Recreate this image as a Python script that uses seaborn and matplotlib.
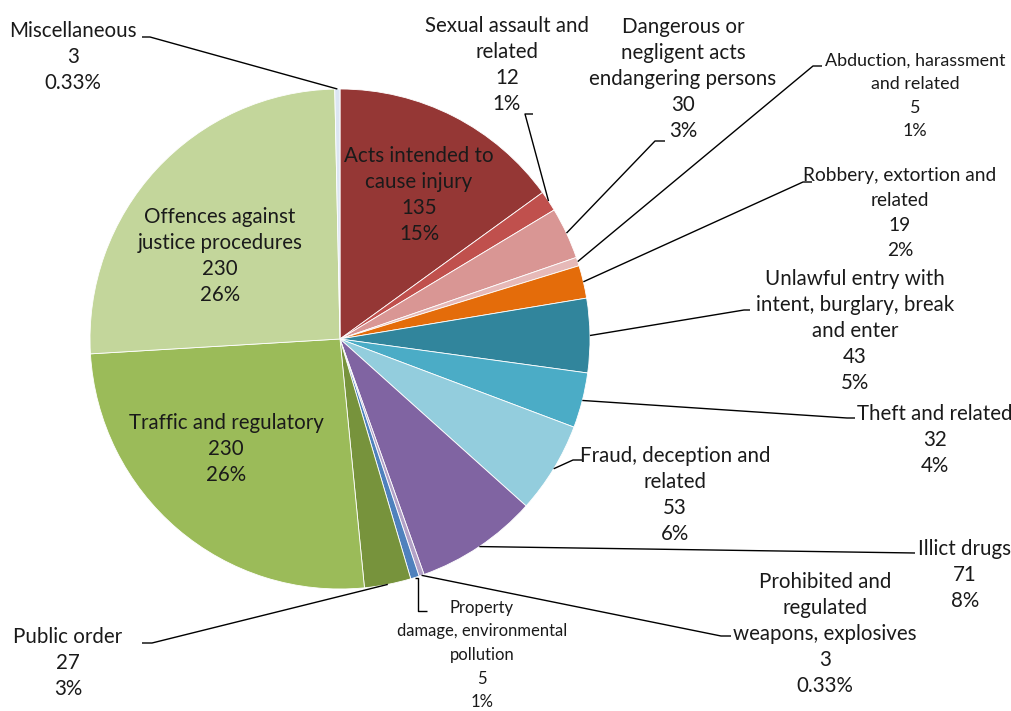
import numpy as np
import matplotlib.pyplot as plt
import seaborn as sns

# offence categories, clockwise from 12 o'clock
categories = ['Acts intended to\ncause injury', 'Sexual assault and\nrelated',
              'Dangerous or\nnegligent acts\nendangering persons',
              'Abduction, harassment\nand related', 'Robbery, extortion and\nrelated',
              'Unlawful entry with\nintent, burglary, break\nand enter', 'Theft and related',
              'Fraud, deception and\nrelated', 'Illict drugs',
              'Prohibited and\nregulated\nweapons, explosives',
              'Property\ndamage, environmental\npollution', 'Public order',
              'Traffic and regulatory', 'Offences against\njustice procedures', 'Miscellaneous']
counts = [135, 12, 30, 5, 19, 43, 32, 53, 71, 3, 5, 27, 230, 230, 3]
pct_labels = ['15%', '1%', '3%', '1%', '2%', '5%', '4%', '6%', '8%', '0.33%',
              '1%', '3%', '26%', '26%', '0.33%']
colors = ['#953735', '#C0504D', '#D99694', '#E6B9B8', '#E46C0A', '#31859C', '#4BACC6',
          '#93CDDD', '#8064A2', '#B3A2C7', '#4F81BD', '#77933C', '#9BBB59', '#C3D69B',
          '#DCE6F2']

sns.set_theme(style='white')
plt.rcParams['font.family'] = ['Lato', 'DejaVu Sans']

W, H = 1012, 711
fig = plt.figure(figsize=(W / 100, H / 100), dpi=100)
ax = fig.add_axes([0, 0, 1, 1])

cx, cy, R = 340, H - 339, 250
wedges, _ = ax.pie(counts, colors=sns.color_palette(colors), startangle=90,
                   counterclock=False, center=(cx, cy), radius=R,
                   wedgeprops=dict(edgecolor='white', linewidth=0.6))
ax.set_xlim(0, W)
ax.set_ylim(0, H)
ax.set_aspect('equal')
ax.axis('off')

def label(i):
    return f'{categories[i]}\n{counts[i]}\n{pct_labels[i]}'

def edge(i, r=R):
    w = wedges[i]
    a = np.deg2rad((w.theta1 + w.theta2) / 2)
    return cx + r * np.cos(a), cy + r * np.sin(a)

txt = dict(ha='center', va='center', color='#1a1a1a')
BIG = 14.8

# labels inside the pie
inside = {0: (419, 195), 12: (226, 449), 13: (220, 256)}
for i, (x, y) in inside.items():
    ax.text(x, H - y, label(i), fontsize=BIG, linespacing=1.36, **txt)

# labels outside: text centre, font size, leader points near the text (pixels, y down)
outside = {
    14: ((73, 57), BIG, [(142, 37), (150, 37)]),
    1: ((507, 65), BIG, [(533, 114), (525, 114)]),
    2: ((683, 79), BIG, [(665, 141), (655, 141)]),
    3: ((915, 96), 12.9, [(822, 66), (813, 66)]),
    4: ((900, 213), 13.8, [(812, 182), (803, 182)]),
    5: ((855, 331), BIG, [(750, 310), (744, 310)]),
    6: ((935, 440), BIG, [(855, 418), (847, 418)]),
    7: ((675, 495), BIG, [(582, 460), (573, 460)]),
    8: ((965, 575), BIG, [(915, 553)]),
    9: ((825, 634), BIG, [(731, 636), (721, 636)]),
    10: ((482, 655), 12.0, [(427, 611), (418, 611)]),
    11: ((68, 663), BIG, [(142, 643), (152, 643)]),
}
for i, ((x, y), fs, pts) in outside.items():
    ls = 1.36 if fs >= 14 else 1.58
    ax.text(x, H - y, label(i), fontsize=fs, linespacing=ls, **txt)
    xs = [p[0] for p in pts]
    ys = [H - p[1] for p in pts]
    ex, ey = edge(i)
    if i == 10:
        xs.append(xs[-1])
        ys.append(ey)
    xs.append(ex)
    ys.append(ey)
    ax.plot(xs, ys, color='black', lw=1, solid_capstyle='butt')

fig.savefig('out.png', dpi=100)
